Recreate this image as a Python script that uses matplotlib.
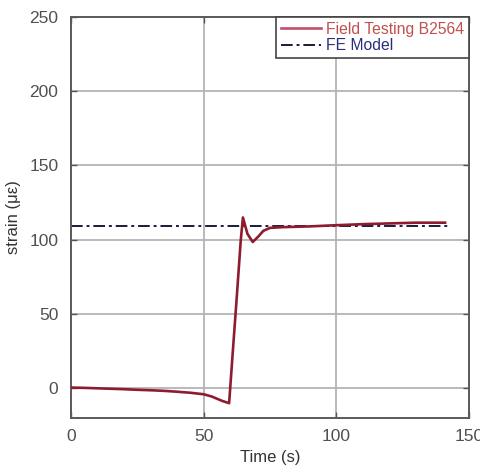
"""Field testing vs FE model strain history (MATLAB-style figure)."""
import matplotlib
matplotlib.use('Agg')
import matplotlib.pyplot as plt

# ── Data ────────────────────────────────────────────────────────────
field_time = [0, 5, 10, 15, 20, 25, 30, 35, 40, 45, 50, 53, 55, 57, 59.6,
              61, 62.5, 64, 64.8, 66.5, 68.5, 70.5, 72.5, 75, 80, 90, 100,
              110, 120, 130, 141]
field_strain = [0.5, 0.3, 0, -0.3, -0.6, -1, -1.3, -1.7, -2.3, -3, -4, -5.5,
                -7, -8.5, -10, 25, 62, 100, 115, 104, 98.5, 102, 106, 108,
                108.5, 109, 109.8, 110.5, 111, 111.5, 111.5]
fe_time = [0, 142]
fe_strain = [109, 109]

xticks = [0, 50, 100, 150]
yticks = [0, 50, 100, 150, 200, 250]

# ── Figure ──────────────────────────────────────────────────────────
plt.rcParams['font.family'] = ['Liberation Sans', 'DejaVu Sans']
fig = plt.figure(figsize=(4.81, 4.68), dpi=100, facecolor='white')
ax = fig.add_axes([0.1476, 0.1068, 0.8274, 0.857])

ax.plot(field_time, field_strain, color='#8e1b2e', lw=1.9, zorder=3,
        label='Field Testing B2564')
ax.plot(fe_time, fe_strain, color='#1a1a3a', lw=1.4, ls=(0, (6, 2, 1.5, 2)),
        zorder=2, label='FE Model')

ax.set_xlim(0, 150)
ax.set_ylim(-20, 250)
ax.set_xticks(xticks)
ax.set_yticks(yticks)
ax.grid(True, color='#b4b4b4', lw=1.3)
ax.set_axisbelow(True)
ax.tick_params(direction='in', length=4, colors='#555555', labelsize=12.5,
               top=True, right=True, width=1, labelcolor='#505050')
ax.tick_params(axis='y', pad=9)
ax.tick_params(axis='x', pad=8)
for sp in ax.spines.values():
    sp.set_edgecolor('#5a5a5a')
    sp.set_linewidth(1.4)

ax.set_xlabel('Time (s)', fontsize=12, color='#333333', labelpad=4)
ax.set_ylabel('strain (\u03bc\u03b5)', fontsize=12, color='#333333', labelpad=6)

leg = ax.legend(loc='upper right', fontsize=11.3, handlelength=2.6,
                handletextpad=0.3, borderpad=0.3, labelspacing=0.1,
                borderaxespad=0, fancybox=False, framealpha=1,
                edgecolor='#444444')
leg.get_frame().set_linewidth(1.2)
leg.get_texts()[0].set_color('#c0504d')
leg.get_texts()[1].set_color('#2a2f7a')
leg.get_lines()[0].set_color('#c0506a')

fig.savefig('out.png', dpi=100, facecolor='white')
